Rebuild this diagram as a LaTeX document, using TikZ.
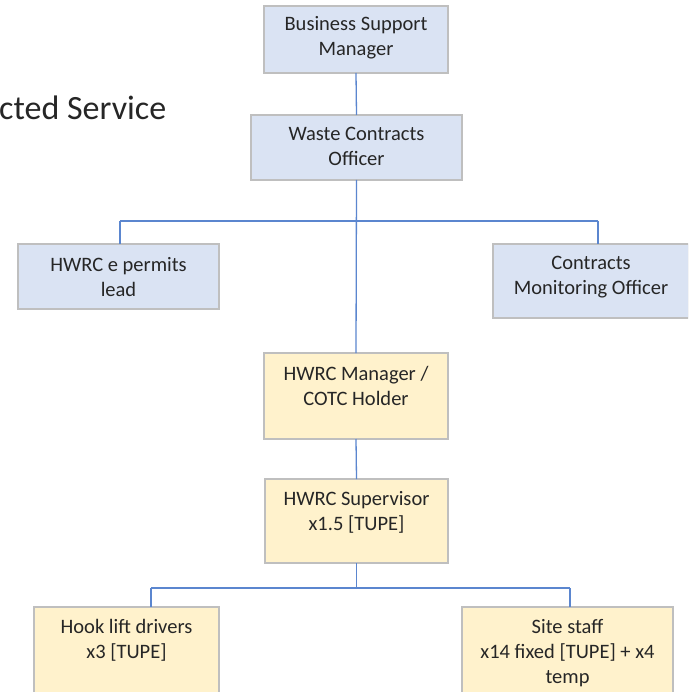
\documentclass[tikz,border=0pt]{standalone}
\usepackage{fontspec}
\setmainfont{Carlito}
\definecolor{boxblue}{HTML}{DAE3F3}
\definecolor{boxyellow}{HTML}{FFF2CC}
\definecolor{boxline}{HTML}{BFBFBF}
\definecolor{conn}{HTML}{5B86CF}
\begin{document}
\begin{tikzpicture}[x=1pt,y=-1pt,
  orgbox/.style={draw=boxline, line width=1.3pt, inner sep=0pt, outer sep=0pt},
  bluebox/.style={orgbox, fill=boxblue},
  yellowbox/.style={orgbox, fill=boxyellow},
  lbl/.style={font=\fontsize{20.5}{25}\selectfont, align=center, inner sep=0pt, text=black!85},
  wire/.style={draw=conn, line width=1.3pt}]
\useasboundingbox (0,0) rectangle (688,692);
\clip (0,0) rectangle (688,692);
\fill[white] (0,0) rectangle (688,692);
% boxes
\node[bluebox, minimum width=184pt, minimum height=67pt] (bsm) at (356,39.5) {};
\node[bluebox, minimum width=211pt, minimum height=65pt] (wco) at (356.5,147.5) {};
\node[bluebox, minimum width=201pt, minimum height=65pt] (eperm) at (118.5,276.5) {};
\node[bluebox, minimum width=196pt, minimum height=74pt] (cmo) at (591,281) {};
\node[yellowbox, minimum width=184pt, minimum height=86pt] (mgr) at (356,396) {};
\node[yellowbox, minimum width=183pt, minimum height=84pt] (sup) at (356.5,521) {};
\node[yellowbox, minimum width=185pt, minimum height=100pt] (hook) at (126.5,657) {};
\node[yellowbox, minimum width=211pt, minimum height=100pt] (site) at (567.5,657) {};
% labels
\node[lbl] (tbsm) at (356,37.5) {Business Support\\Manager};
\node[lbl] (twco) at (356.5,146) {Waste Contracts\\Officer};
\node[lbl] (teperm) at (118.5,277.5) {HWRC e permits\\lead};
\node[lbl] (tcmo) at (591,277.5) {Contracts\\Monitoring Officer};
\node[lbl] (tmgr) at (356,385.5) {HWRC Manager /\\COTC Holder};
\node[lbl] (tsup) at (356.5,512.5) {HWRC Supervisor\\x1.5 [TUPE]};
\node[lbl] (thook) at (126.5,640.5) {Hook lift drivers\\x3 [TUPE]};
\node[lbl] (tsite) at (567.5,653) {Site staff\\x14 fixed [TUPE] + x4\\temp};
% title fragment
\node[anchor=base west, inner sep=0pt, font=\fontsize{34}{40}\selectfont, text=black!85] (title) at (-1,120) {cted Service};
% connectors
\coordinate (bus1) at (356.5,221);
\coordinate (ep) at (120,221);
\coordinate (cm) at (598,221);
\coordinate (bus2) at (356.5,588);
\coordinate (hk) at (151,588);
\coordinate (st) at (570,588);
\draw[wire] (bsm.south) -- (wco.north);
\draw[wire] (wco.south) -- (mgr.north);
\draw[wire] (ep) -- (cm);
\draw[wire] (ep) -- (ep |- eperm.north);
\draw[wire] (cm) -- (cm |- cmo.north);
\draw[wire] (mgr.south) -- (sup.north);
\draw[wire] (sup.south) -- (bus2);
\draw[wire] (hk) -- (st);
\draw[wire] (hk) -- (hk |- hook.north);
\draw[wire] (st) -- (st |- site.north);
\end{tikzpicture}
\end{document}
